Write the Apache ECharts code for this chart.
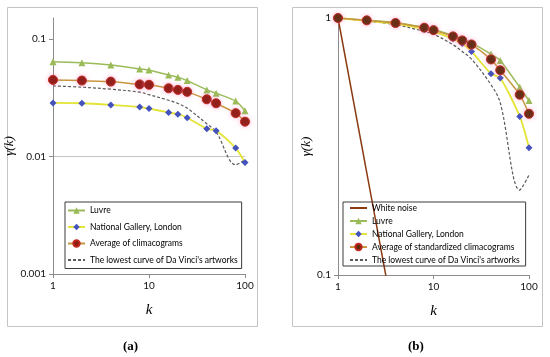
<!DOCTYPE html>
<html>
<head>
<meta charset="utf-8">
<script src="https://cdn.jsdelivr.net/npm/echarts@6/dist/echarts.min.js"></script>
<style>html,body{margin:0;padding:0;background:#fff}#c{width:550px;height:357px}</style>
</head>
<body>
<div id="c"></div>
<script>
// ---- data ----
const kValues = [1, 2, 4, 8, 10, 16, 20, 25, 40, 50, 80, 100];
const xTicks = [1, 10, 100];
const yTicksA = [0.001, 0.01, 0.1];
const yTicksB = [0.1, 1];

// panel (a): climacograms
const luvreA = [0.0641, 0.0629, 0.0601, 0.0556, 0.0545, 0.0494, 0.0473, 0.0443, 0.0369, 0.0346, 0.0297, 0.0245];
const galleryA = [0.0286, 0.0284, 0.0275, 0.0264, 0.0256, 0.0237, 0.0229, 0.0214, 0.0172, 0.0166, 0.0118, 0.00889];
const averageA = [0.0449, 0.0443, 0.0434, 0.0411, 0.0408, 0.0381, 0.0369, 0.0355, 0.0307, 0.0284, 0.0234, 0.0198];
const daVinciA = [0.0399, 0.0389, 0.0374, 0.0353, 0.0336, 0.0301, 0.0283, 0.0258, 0.0190, 0.0162, 0.0085, 0.0094];

// panel (b): standardized climacograms
const whiteNoiseB = [1, 0.25, 0.0625, 0.015625, 0.01, 0.00390625, 0.0025, 0.0016, 0.000625, 0.0004, 0.00015625, 0.0001];
const luvreB = [1, 0.98, 0.96, 0.92, 0.905, 0.855, 0.83, 0.80, 0.724, 0.684, 0.538, 0.477];
const galleryB = [1, 0.975, 0.95, 0.905, 0.885, 0.83, 0.795, 0.741, 0.607, 0.584, 0.414, 0.313];
const averageB = [1, 0.979, 0.956, 0.917, 0.897, 0.848, 0.818, 0.789, 0.69, 0.626, 0.503, 0.424];
const daVinciB = [1, 0.973, 0.942, 0.887, 0.866, 0.787, 0.741, 0.692, 0.550, 0.468, 0.214, 0.245];

const pairs = vals => kValues.map((k, i) => [k, vals[i]]);

// ---- styles ----
const FONT = 'Lato, "Liberation Sans", sans-serif';
const SERIF = '"Liberation Serif", "DejaVu Serif", serif';
const GREEN = '#9BBB59';
const YELLOW = '#E4E436';
const BLUE = '#4452BE';
const AVG_LINE = '#C8963E';

function xAxis(idx) {
  return {
    type: 'log', logBase: 10, gridIndex: idx, min: 1, max: 100,
    name: 'k', nameLocation: 'middle', nameGap: 29,
    nameTextStyle: { fontFamily: SERIF, fontStyle: 'italic', fontSize: 15, color: '#000' },
    axisLine: { lineStyle: { color: '#8c8c8c', width: 1 } },
    axisTick: { show: true, length: 4, lineStyle: { color: '#8c8c8c' }, customValues: xTicks },
    axisLabel: { fontFamily: FONT, fontSize: 10, color: '#111', margin: 7, customValues: xTicks,
      formatter: v => String(+(+v).toPrecision(3)) },
    splitLine: { show: false },
    minorTick: { show: false }
  };
}
function yAxis(idx, min, max, ticks, gap) {
  return {
    type: 'log', logBase: 10, gridIndex: idx, min: min, max: max,
    name: 'γ(k)', nameLocation: 'middle', nameGap: gap, nameRotate: 90,
    nameTextStyle: { fontFamily: SERIF, fontStyle: 'italic', fontSize: 13, color: '#000' },
    axisLine: { show: true, lineStyle: { color: '#8c8c8c', width: 1 } },
    axisTick: { show: true, length: 4, lineStyle: { color: '#8c8c8c' }, customValues: ticks },
    axisLabel: { fontFamily: FONT, fontSize: 10, color: '#111', margin: 7, customValues: ticks,
      formatter: v => String(+(+v).toPrecision(3)) },
    splitLine: { show: true, showMaxLine: false, lineStyle: { color: '#c4c4c4', width: 1 } }
  };
}

function luvre(data, ax) {
  return { name: 'Luvre', type: 'line', xAxisIndex: ax, yAxisIndex: ax, data: pairs(data), smooth: 0.2,
    symbol: 'triangle', symbolSize: 7, lineStyle: { color: GREEN, width: 1.5 },
    itemStyle: { color: GREEN }, z: 3 };
}
function gallery(data, ax) {
  return { name: 'National Gallery, London', type: 'line', xAxisIndex: ax, yAxisIndex: ax, data: pairs(data), smooth: 0.25,
    symbol: 'diamond', symbolSize: 7, lineStyle: { color: YELLOW, width: 1.8 },
    itemStyle: { color: BLUE }, z: 4 };
}
function average(name, data, ax, fill) {
  return { name: name, type: 'line', xAxisIndex: ax, yAxisIndex: ax, data: pairs(data), smooth: 0.2,
    symbol: 'circle', symbolSize: 9, lineStyle: { color: AVG_LINE, width: 1.5 },
    itemStyle: { color: fill, borderColor: '#C0281E', borderWidth: 1,
      shadowColor: 'rgba(255,120,190,0.5)', shadowBlur: 4 }, z: 5 };
}
function daVinci(data, ax) {
  return { name: "The lowest curve of Da Vinci's artworks", type: 'line', xAxisIndex: ax, yAxisIndex: ax,
    data: pairs(data), smooth: 0.35, showSymbol: false, symbol: 'none',
    lineStyle: { color: '#5a5a5a', width: 1.2, type: [3, 2] }, itemStyle: { color: '#5a5a5a', opacity: 0 }, z: 2 };
}

const legendBase = {
  orient: 'vertical', itemWidth: 17, itemHeight: 8, borderColor: '#3a3a3a', borderWidth: 1,
  selectedMode: false,
  textStyle: { fontFamily: FONT, fontSize: 8.5, color: '#000' }
};

const option = {
  animation: false,
  backgroundColor: '#fff',
  grid: [
    { left: 53, top: 18, width: 192, height: 256, outerBoundsMode: 'none', containLabel: false },
    { left: 338, top: 18, width: 191, height: 257, outerBoundsMode: 'none', containLabel: false }
  ],
  xAxis: [xAxis(0), xAxis(1)],
  yAxis: [yAxis(0, 0.001, 0.151, yTicksA, 23), yAxis(1, 0.1, 1, yTicksB, 21)],
  legend: [
    Object.assign({}, legendBase, {
      left: 65, top: 202, itemGap: 7.5, padding: [4, 4, 4, 2],
      data: ['Luvre', 'National Gallery, London', 'Average of climacograms', "The lowest curve of Da Vinci's artworks"]
    }),
    Object.assign({}, legendBase, {
      left: 343, top: 202, itemGap: 4, padding: [1.5, 6, 1.5, 6],
      data: ['White noise', 'Luvre', 'National Gallery, London', 'Average of standardized climacograms', "The lowest curve of Da Vinci's artworks"]
    })
  ],
  series: [
    luvre(luvreA, 0),
    gallery(galleryA, 0),
    average('Average of climacograms', averageA, 0, '#8B1A10'),
    daVinci(daVinciA, 0),
    { name: 'White noise', type: 'line', xAxisIndex: 1, yAxisIndex: 1, data: pairs(whiteNoiseB),
      showSymbol: false, symbol: 'none', lineStyle: { color: '#8B3A12', width: 1.5 },
      itemStyle: { color: '#8B3A12', opacity: 0 }, z: 1 },
    luvre(luvreB, 1),
    gallery(galleryB, 1),
    average('Average of standardized climacograms', averageB, 1, '#5E2A0C'),
    daVinci(daVinciB, 1)
  ],
  graphic: [
    { type: 'rect', shape: { x: 7.5, y: 7.5, width: 250, height: 319 }, style: { fill: 'none', stroke: '#c4c4c4', lineWidth: 1 }, z: -1 },
    { type: 'rect', shape: { x: 292.5, y: 7.5, width: 250, height: 319 }, style: { fill: 'none', stroke: '#c4c4c4', lineWidth: 1 }, z: -1 },
    { type: 'text', left: 123, top: 340, style: { text: '(a)', font: 'bold 13px ' + SERIF, fill: '#000' } },
    { type: 'text', left: 408, top: 340, style: { text: '(b)', font: 'bold 13px ' + SERIF, fill: '#000' } }
  ]
};

const chart = echarts.init(document.getElementById('c'), null, { renderer: 'canvas' });
chart.setOption(option);
</script>
</body>
</html>
